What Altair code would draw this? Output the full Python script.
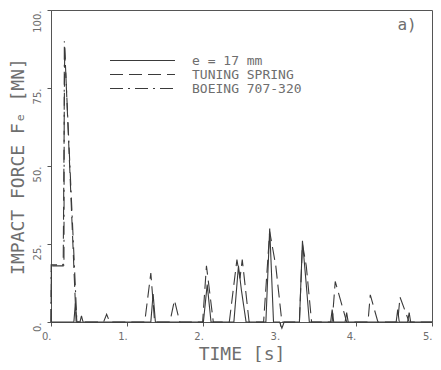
import altair as alt
import pandas as pd

# ---- data ----
series_names = ["e = 17 mm", "TUNING SPRING", "BOEING 707-320"]

solid_t = [0, 0.30, 0.32, 0.34, 0.38, 0.40, 0.42, 1.31, 1.34, 1.37, 2.00, 2.05, 2.10,
           2.40, 2.46, 2.50, 2.56, 2.82, 2.87, 2.92, 3.00, 3.03, 3.06, 3.26, 3.30, 3.35,
           3.39, 3.67, 3.69, 3.71, 3.86, 3.88, 3.90, 4.53, 4.55, 4.57, 4.68, 4.70, 4.72, 5.0]
solid_v = [0, 0, 6, 0, 0, 2, 0, 0, 9, 0, 0, 12, 0,
           0, 18, 10, 0, 0, 30, 0, 0, -2, 0, 0, 26, 12,
           0, 0, 4, 0, 0, 3, 0, 0, 4, 0, 0, 3, 0, 0]

spring_t = [0, 0.005, 0.16, 0.18, 0.33, 0.69, 0.73, 0.77, 1.23, 1.31, 1.36, 1.56, 1.62, 1.69,
            1.99, 2.04, 2.13, 2.34, 2.44, 2.48, 2.51, 2.60, 2.79, 2.87, 2.95, 3.03,
            3.26, 3.30, 3.35, 3.42, 3.69, 3.73, 3.88, 4.16, 4.19, 4.29, 4.55, 4.58, 4.70, 5.0]
spring_v = [0, 18, 18, 88, 0, 0, 2.5, 0, 0, 15.7, 0, 0, 7, 0,
            0, 18, 0, 0, 20, 14, 20, 0, 0, 29, 18, 0,
            0, 25, 18, 0, 0, 13, 0, 0, 8.7, 0, 0, 8, 0, 0]

boeing_t = [0, 0.002, 0.17, 0.175, 0.34, 0.40]
boeing_v = [0, 18.3, 18.3, 90, 0, 0]

rows = []
for name, ts, vs in [(series_names[0], solid_t, solid_v),
                     (series_names[1], spring_t, spring_v),
                     (series_names[2], boeing_t, boeing_v)]:
    for i, (t, v) in enumerate(zip(ts, vs)):
        rows.append({"series": name, "t": t, "F": v, "order": i})
df = pd.DataFrame(rows)

mono = "DejaVu Sans Mono"
txt = "#6e6e6e"
ink = "#3a3a3a"

lines = alt.Chart(df).mark_line(strokeWidth=1.1, color=ink, clip=False).encode(
    x=alt.X("t:Q", scale=alt.Scale(domain=[0, 5], nice=False),
            axis=alt.Axis(title="TIME [s]", values=[0, 1, 2, 3, 4, 5],
                          labelExpr="format(datum.value, 'd') + '.'",
                          labelAlign="right", labelPadding=5, tickSize=4,
                          grid=False, titlePadding=4)),
    y=alt.Y("F:Q", scale=alt.Scale(domain=[0, 100], nice=False),
            axis=alt.Axis(title="IMPACT FORCE Fₑ [MN]", values=[0, 25, 50, 75, 100],
                          labelExpr="format(datum.value, 'd') + '.'",
                          labelAngle=-90, labelAlign="right", labelBaseline="bottom",
                          labelPadding=5, tickSize=4, grid=False, titlePadding=5)),
    strokeDash=alt.StrokeDash("series:N",
        scale=alt.Scale(domain=series_names, range=[[1, 0], [13, 6], [13, 5, 2, 5]]),
        sort=series_names,
        legend=alt.Legend(title=None, orient="none", legendX=85, legendY=44, padding=0,
                          symbolType="M-8,0H8", symbolSize=66, symbolStrokeWidth=1,
                          symbolStrokeColor=ink, labelOffset=43, rowPadding=0,
                          labelFont=mono, labelFontSize=13, labelColor=txt)),
    order="order:Q",
    detail="series:N",
)

label_a = alt.Chart(pd.DataFrame({"s": ["a)"]})).mark_text(
    font=mono, fontSize=16, color=txt, align="center", baseline="middle"
).encode(x=alt.value(356), y=alt.value(15), text="s:N")

chart = alt.layer(lines, label_a).properties(
    width=381, height=312,
    padding={"left": 43, "top": 2, "right": 1, "bottom": 40},
    autosize=alt.AutoSizeParams(type="none"),
).configure_view(stroke="#555", strokeWidth=1).configure_axis(
    domainColor="#555", tickColor="#555", labelColor=txt, labelFont="DejaVu Sans",
    labelFontSize=10, titleFont=mono, titleFontSize=18, titleColor=txt,
    titleFontWeight="normal"
)

chart.save("out.html", embed_options={"renderer": "svg", "actions": False})
